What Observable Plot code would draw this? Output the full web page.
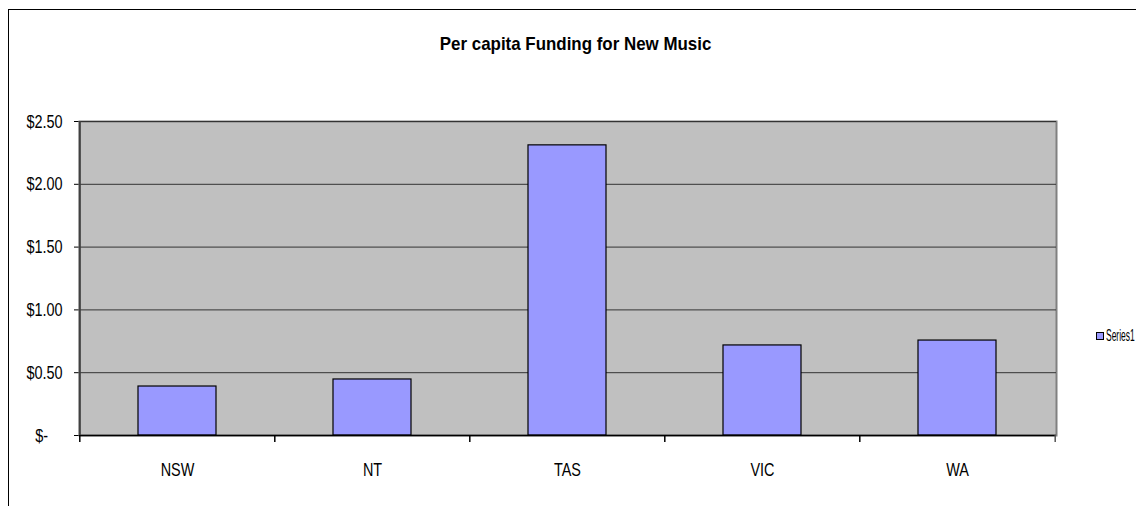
<!DOCTYPE html>
<html>
<head>
<meta charset="utf-8">
<script src="https://cdn.jsdelivr.net/npm/d3@7"></script>
<script src="https://cdn.jsdelivr.net/npm/@observablehq/plot@0.6"></script>
<style>
  html, body { margin: 0; padding: 0; background: #fff; }
  #wrap { position: relative; width: 1136px; height: 506px; overflow: hidden; font-family: 'Liberation Sans', Arial, sans-serif; }
  #border { position: absolute; left: 8px; top: 9px; width: 2000px; height: 2000px; border: 1px solid #000; box-sizing: border-box; }
  #title { position: absolute; left: 0; top: 33px; width: 1152px; text-align: center; font-weight: bold; font-size: 19px; color: #000; }
  #title span { display: inline-block; transform: scaleX(0.89); transform-origin: center; }
  #chart { position: absolute; left: 0; top: 0; }
  #legend { position: absolute; left: 1095px; top: 326px; width: 41px; height: 20px; overflow: visible; }
  #legend svg { display: block; }
</style>
</head>
<body>
<div id="wrap">
  <div id="border"></div>
  <div id="chart"></div>
  <div id="title"><span id="titletext"></span></div>
  <div id="legend"></div>
</div>
<script>
const title = "Per capita Funding for New Music";
const seriesName = "Series1";
const categories = ["NSW", "NT", "TAS", "VIC", "WA"];
const values = [0.39, 0.446, 2.31, 0.717, 0.756];
const yTicks = [0, 0.5, 1, 1.5, 2, 2.5];
const barColor = "#9999FF";

document.getElementById("titletext").textContent = title;

// legend: swatch + condensed label that fits before the right edge
{
  const ns = "http://www.w3.org/2000/svg";
  const svg = document.createElementNS(ns, "svg");
  svg.setAttribute("width", 41);
  svg.setAttribute("height", 20);
  const r = document.createElementNS(ns, "rect");
  r.setAttribute("x", 1.5); r.setAttribute("y", 6.5);
  r.setAttribute("width", 7); r.setAttribute("height", 7);
  r.setAttribute("fill", barColor); r.setAttribute("stroke", "#000");
  svg.appendChild(r);
  const t = document.createElementNS(ns, "text");
  t.setAttribute("x", 0); t.setAttribute("y", 15.5);
  t.setAttribute("font-size", 16);
  t.setAttribute("font-family", "'Liberation Sans', Arial, sans-serif");
  t.setAttribute("transform", "translate(11,0) scale(0.53,1)");
  t.textContent = seriesName;
  svg.appendChild(t);
  document.getElementById("legend").appendChild(svg);
}

const data = categories.map((c, i) => ({state: c, value: values[i]}));

const W = 1136, H = 506, mL = 79, mR = 80, mT = 121, mB = 71;
const pIn = 0.6, pOut = 0.3;
const step = (W - mL - mR) / (categories.length - pIn + 2 * pOut);

const fmt = d => d === 0 ? "$-\u2003" : "$" + d.toFixed(2);

const chart = Plot.plot({
  width: W,
  height: H,
  marginTop: mT,
  marginBottom: mB,
  marginLeft: mL,
  marginRight: mR,
  style: {
    fontFamily: "'Liberation Sans', Arial, sans-serif",
    fontSize: "19px",
    background: "transparent",
    color: "#000"
  },
  x: {domain: categories, paddingInner: pIn, paddingOuter: pOut, label: null, tickSize: 0, tickPadding: 27},
  y: {domain: [0, 2.5], ticks: yTicks, tickFormat: fmt, tickSize: 5, tickPadding: 12, label: null},
  marks: [
    Plot.frame({fill: "#C0C0C0", stroke: "#808080", strokeWidth: 2}),
    Plot.ruleY(yTicks, {stroke: "#333", strokeWidth: 1}),
    Plot.barY(data, {x: "state", y: "value", fill: barColor, stroke: "#000", strokeWidth: 1.2}),
    Plot.ruleY([0], {stroke: "#000", strokeWidth: 1.5}),
    Plot.ruleX(categories.slice(0, 1), {x: d => d, y1: () => 0, y2: () => 2.5, dx: -step / 2, stroke: "#404040", strokeWidth: 2}),
    Plot.ruleX(categories, {x: d => d, y1: () => 0, y2: () => 0, insetBottom: -7, dx: -step / 2, stroke: "#000", strokeWidth: 1.5}),
    Plot.ruleX(categories.slice(-1), {x: d => d, y1: () => 0, y2: () => 0, insetBottom: -7, dx: step / 2, stroke: "#555", strokeWidth: 1.5})
  ]
});
document.getElementById("chart").appendChild(chart);

// Condense SVG text horizontally (narrow Arial look of the original)
function condense(svg, s) {
  svg.querySelectorAll("text").forEach(t => {
    const b = t.getBBox();
    const anchor = getComputedStyle(t).textAnchor;
    const px = anchor === "end" ? b.x + b.width : anchor === "middle" ? b.x + b.width / 2 : b.x;
    const prev = t.getAttribute("transform") || "";
    t.setAttribute("transform", `${prev} translate(${px},0) scale(${s},1) translate(${-px},0)`.trim());
  });
}
condense(chart, 0.76);
</script>
</body>
</html>
